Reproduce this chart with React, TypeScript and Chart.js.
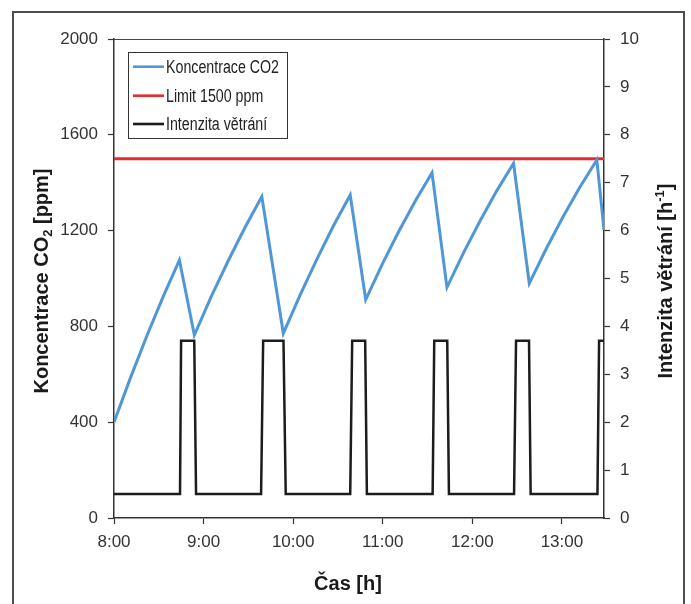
import React, { useEffect, useRef } from 'react';
import { Chart, registerables } from 'chart.js';

Chart.register(...registerables);

// ---- data ----
const xTickLabels = ['8:00', '9:00', '10:00', '11:00', '12:00', '13:00'];

const co2Times = [
  0, 0.1825, 0.365, 0.5475, 0.73,
  0.897, 1.085, 1.274, 1.462, 1.65,
  1.89, 2.077, 2.264, 2.45, 2.637,
  2.81, 2.995, 3.18, 3.365, 3.55,
  3.717, 3.903, 4.089, 4.274, 4.46,
  4.636, 4.825, 5.013, 5.2, 5.39,
  5.47,
];
const co2Values = [
  400, 584, 759, 923, 1077,
  764, 924, 1073, 1213, 1342,
  771, 931, 1080, 1220, 1349,
  912, 1060, 1197, 1325, 1442,
  963, 1108, 1242, 1367, 1481,
  980, 1124, 1258, 1381, 1495,
  1203,
];

const ventTimes = [0, 0.737, 0.749, 0.896, 0.916, 1.642, 1.665, 1.892, 1.917, 2.637, 2.659, 2.804, 2.823, 3.557, 3.575, 3.72, 3.739, 4.466, 4.488, 4.633, 4.651, 5.397, 5.415, 5.47];
const ventValues = [0.5, 0.5, 3.7, 3.7, 0.5, 0.5, 3.7, 3.7, 0.5, 0.5, 3.7, 3.7, 0.5, 0.5, 3.7, 3.7, 0.5, 0.5, 3.7, 3.7, 0.5, 0.5, 3.7, 3.7];

const limitTimes = [0, 5.47];
const limitValues = [1500, 1500];

const seriesLabels = ['Koncentrace CO2', 'Limit 1500 ppm', 'Intenzita větrání'];
const seriesColors = ['#4f97d6', '#ea2a2a', '#1c1c1c'];

const FONT = 'Liberation Sans, Arial, sans-serif';

function drawMixed(ctx: CanvasRenderingContext2D, parts: { t: string; size: number; dy: number }[], cx: number, cy: number) {
  let total = 0;
  const widths = parts.map((p) => {
    ctx.font = `bold ${p.size}px ${FONT}`;
    const w = ctx.measureText(p.t).width;
    total += w;
    return w;
  });
  let x = cx - total / 2;
  parts.forEach((p, i) => {
    ctx.font = `bold ${p.size}px ${FONT}`;
    ctx.fillText(p.t, x, cy + p.dy);
    x += widths[i];
  });
}

const decorPlugin = {
  id: 'decor',
  afterDraw(chart: any) {
    const ctx: CanvasRenderingContext2D = chart.ctx;
    const area = chart.chartArea;
    ctx.save();
    // top border of plot area
    ctx.strokeStyle = '#444';
    ctx.lineWidth = 1.2;
    ctx.beginPath();
    ctx.moveTo(area.left, area.top + 0.5);
    ctx.lineTo(area.right, area.top + 0.5);
    ctx.stroke();

    ctx.fillStyle = '#1a1a1a';
    ctx.textBaseline = 'alphabetic';
    ctx.textAlign = 'left';

    // left title
    ctx.save();
    ctx.translate(48, 281);
    ctx.rotate(-Math.PI / 2);
    drawMixed(ctx, [
      { t: 'Koncentrace CO', size: 20, dy: 0 },
      { t: '2', size: 13, dy: 4 },
      { t: ' [ppm]', size: 20, dy: 0 },
    ], 0, 0);
    ctx.restore();

    // right title
    ctx.save();
    ctx.translate(672, 281);
    ctx.rotate(-Math.PI / 2);
    drawMixed(ctx, [
      { t: 'Intenzita větrání [h', size: 20, dy: 0 },
      { t: '-1', size: 13, dy: -8 },
      { t: ']', size: 20, dy: 0 },
    ], 0, 0);
    ctx.restore();

    // bottom title
    drawMixed(ctx, [{ t: 'Čas [h]', size: 20, dy: 0 }], 348, 590);

    // legend
    const lx = 128, ly = 52, lw = 159, lh = 86;
    ctx.fillStyle = '#ffffff';
    ctx.fillRect(lx, ly, lw, lh);
    ctx.strokeStyle = '#333';
    ctx.lineWidth = 1;
    ctx.strokeRect(lx + 0.5, ly + 0.5, lw, lh);
    const rows = [66.7, 95.7, 124];
    seriesLabels.forEach((lab, i) => {
      ctx.strokeStyle = seriesColors[i];
      ctx.lineWidth = 2.6;
      ctx.beginPath();
      ctx.moveTo(133, rows[i]);
      ctx.lineTo(164, rows[i]);
      ctx.stroke();
      ctx.save();
      ctx.translate(166, rows[i]);
      ctx.scale(0.79, 1);
      ctx.fillStyle = '#222';
      ctx.font = `18px ${FONT}`;
      ctx.textBaseline = 'middle';
      ctx.fillText(lab, 0, 1);
      ctx.restore();
    });
    ctx.restore();
  },
};

export default function App() {
  const ref = useRef<HTMLCanvasElement | null>(null);

  useEffect(() => {
    if (!ref.current) return;
    const tickFont = { family: FONT, size: 17 };
    const plain = (v: any) => String(v);
    const chart = new Chart(ref.current, {
      type: 'line',
      data: {
        datasets: [
          {
            label: seriesLabels[0],
            data: co2Times.map((t, i) => ({ x: t, y: co2Values[i] })),
            borderColor: seriesColors[0],
            borderWidth: 3,
            pointRadius: 0,
            tension: 0,
            yAxisID: 'y',
          },
          {
            label: seriesLabels[1],
            data: limitTimes.map((t, i) => ({ x: t, y: limitValues[i] })),
            borderColor: seriesColors[1],
            borderWidth: 3,
            pointRadius: 0,
            yAxisID: 'y',
          },
          {
            label: seriesLabels[2],
            data: ventTimes.map((t, i) => ({ x: t, y: ventValues[i] })),
            borderColor: seriesColors[2],
            borderWidth: 2.5,
            pointRadius: 0,
            tension: 0,
            yAxisID: 'y1',
          },
        ],
      },
      options: {
        responsive: false,
        animation: false,
        devicePixelRatio: 1,
        layout: { padding: { top: 39, left: 0, right: 0, bottom: 0 } },
        plugins: { legend: { display: false }, tooltip: { enabled: false } },
        scales: {
          x: {
            type: 'linear',
            position: 'bottom',
            min: 0,
            max: 5.47,
            ticks: {
              stepSize: 1,
              includeBounds: false,
              autoSkip: false,
              maxRotation: 0,
              padding: 8,
              color: '#333',
              font: tickFont,
              callback: (v: any) => xTickLabels[Math.round(Number(v))] ?? '',
            },
            grid: { drawOnChartArea: false, drawTicks: true, tickLength: 6, tickColor: '#333', tickWidth: 1.2 },
            border: { display: true, color: '#333', width: 1.5 },
            afterFit: (s: any) => { s.height = 86; },
          },
          y: {
            type: 'linear',
            position: 'left',
            min: 0,
            max: 2000,
            ticks: { stepSize: 400, padding: 10, color: '#333', font: tickFont, callback: plain },
            grid: { drawOnChartArea: false, drawTicks: true, tickLength: 6, tickColor: '#333', tickWidth: 1.2 },
            border: { display: true, color: '#333', width: 1.5 },
            afterFit: (s: any) => { s.width = 114; },
          },
          y1: {
            type: 'linear',
            position: 'right',
            min: 0,
            max: 10,
            ticks: { stepSize: 1, padding: 10, color: '#333', font: tickFont, callback: plain },
            grid: { drawOnChartArea: false, drawTicks: true, tickLength: 6, tickColor: '#333', tickWidth: 1.2 },
            border: { display: true, color: '#333', width: 1.5 },
            afterFit: (s: any) => { s.width = 87; },
          },
        },
      },
      plugins: [decorPlugin],
    } as any);
    return () => chart.destroy();
  }, []);

  return (
    <div style={{ position: 'fixed', left: 0, top: 0, width: 691, height: 604, overflow: 'hidden', background: '#fff' }}>
      <div
        style={{
          position: 'absolute',
          left: 12,
          top: 11,
          width: 673,
          height: 700,
          boxSizing: 'border-box',
          border: '2px solid #4d4d4d',
        }}
      />
      <canvas ref={ref} width={691} height={604} style={{ position: 'absolute', left: 0, top: 0, display: 'block' }} />
    </div>
  );
}
